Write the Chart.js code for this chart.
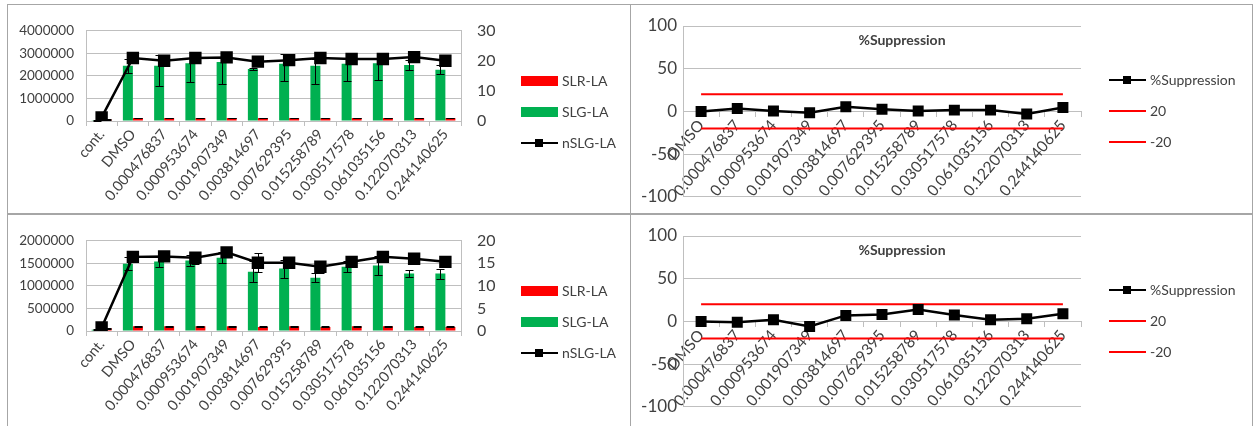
<!DOCTYPE html>
<html>
<head>
<meta charset="utf-8">
<title>SLR / SLG luciferase assay and %Suppression</title>
<script src="https://cdn.jsdelivr.net/npm/chart.js@4.4.1/dist/chart.umd.min.js"></script>
<style>
  html, body { margin: 0; padding: 0; background: #fff; }
  #page { position: relative; width: 1253px; height: 426px; overflow: hidden;
          font-family: Lato, "Open Sans", sans-serif; color: #404040; }
  canvas { position: absolute; }
  .rule { position: absolute; background: #a6a6a6; }
  .leg { position: absolute; height: 20px; line-height: 20px; font-size: 14px; white-space: nowrap; }
  .leg .sw { position: absolute; left: 0; }
  .leg .tx { position: absolute; top: 0; }
</style>
</head>
<body>
<div id="page">
  <!-- panel frame -->
  <div class="rule" style="left:7px;top:4px;width:1246px;height:1px"></div>
  <div class="rule" style="left:7px;top:213px;width:1246px;height:2px"></div>
  <div class="rule" style="left:7px;top:4px;width:1px;height:422px"></div>
  <div class="rule" style="left:630px;top:4px;width:1px;height:422px"></div>
  <div class="rule" style="left:1252px;top:4px;width:1px;height:422px"></div>

  <canvas id="lumTop" width="620" height="208" style="left:8px;top:5px"></canvas>
  <canvas id="lumBottom" width="620" height="208" style="left:8px;top:215px"></canvas>
  <canvas id="suppTop" width="620" height="208" style="left:631px;top:5px"></canvas>
  <canvas id="suppBottom" width="620" height="208" style="left:631px;top:215px"></canvas>
</div>

<script>
// ---- categories / tick labels ----
const categories = ['cont.', 'DMSO', '0.000476837', '0.000953674', '0.001907349', '0.003814697',
  '0.007629395', '0.015258789', '0.030517578', '0.061035156', '0.122070313', '0.244140625'];
const suppressionCategories = ['DMSO', '0.000476837', '0.000953674', '0.001907349', '0.003814697',
  '0.007629395', '0.015258789', '0.030517578', '0.061035156', '0.122070313', '0.244140625'];

// ---- upper assay: luminescence (left axis) and normalised SLG (right axis) ----
const slrTop      = [70000, 130000, 130000, 130000, 130000, 130000, 130000, 130000, 130000, 130000, 130000, 130000];
const slrTopErr   = [8000, 10000, 10000, 10000, 10000, 10000, 10000, 10000, 10000, 10000, 10000, 10000];
const slgTop      = [30000, 2440000, 2440000, 2550000, 2610000, 2300000, 2530000, 2440000, 2530000, 2550000, 2480000, 2270000];
const slgTopLow   = [20000, 2140000, 1560000, 1720000, 1650000, 2250000, 1750000, 1650000, 1780000, 1820000, 2270000, 2100000];
const slgTopHigh  = [40000, 2750000, 2900000, 2800000, 2850000, 2350000, 2970000, 2750000, 2800000, 2750000, 2690000, 2480000];
const nslgTop     = [1.2, 20.9, 20.0, 20.9, 21.1, 19.7, 20.2, 20.9, 20.6, 20.6, 21.2, 20.0];
const nslgTopErr  = [0.3, 0.4, 0.6, 0.5, 0.5, 0.4, 0.6, 0.5, 0.5, 0.5, 0.5, 0.6];

// ---- lower assay ----
const slrBottom     = [60000, 105000, 105000, 105000, 105000, 90000, 105000, 90000, 105000, 105000, 90000, 90000];
const slrBottomErr  = [8000, 10000, 10000, 10000, 10000, 10000, 10000, 10000, 10000, 10000, 10000, 10000];
const slgBottom     = [30000, 1490000, 1540000, 1560000, 1620000, 1310000, 1380000, 1180000, 1420000, 1450000, 1270000, 1270000];
const slgBottomErr  = [10000, 150000, 130000, 130000, 120000, 230000, 200000, 100000, 120000, 200000, 80000, 110000];
const nslgBottom    = [0.8, 16.4, 16.5, 16.2, 17.4, 15.1, 15.1, 14.2, 15.3, 16.4, 16.0, 15.3];
const nslgBottomErr = [0.3, 0.5, 0.3, 1.3, 0.5, 2.1, 1.0, 1.3, 1.0, 0.8, 0.5, 1.2];

// ---- %Suppression relative to DMSO ----
const suppressionTop    = [0, 3.5, 0.5, -1.5, 5.5, 2.5, 0.5, 1.5, 1.5, -3, 4.5];
const suppressionBottom = [0, -1, 2, -6, 7, 8, 14, 7.5, 2, 3, 9];
const limitUpper = [20, 20, 20, 20, 20, 20, 20, 20, 20, 20, 20];
const limitLower = [-20, -20, -20, -20, -20, -20, -20, -20, -20, -20, -20];

// ---- shared styling ----
const RED = '#ff0000', GREEN = '#00b050', BLACK = '#000000', GRID = '#bfbfbf', TEXT = '#404040';
Chart.defaults.font.family = 'Lato, "Open Sans", sans-serif';
Chart.defaults.color = TEXT;

// Error bars: drawn right after their own dataset, using the dataset's y scale.
const errorBars = {
  id: 'errorBars',
  afterDatasetDraw(chart, args) {
    const ds = chart.data.datasets[args.index];
    const e = ds.errors;
    if (!e) return;
    const scale = chart.scales[args.meta.yAxisID];
    const ctx = chart.ctx;
    ctx.save();
    ctx.strokeStyle = '#000';
    ctx.lineWidth = 1;
    args.meta.data.forEach((el, i) => {
      const v = ds.data[i];
      const lo = e.low ? e.low[i] : v - e.err[i];
      const hi = e.high ? e.high[i] : v + e.err[i];
      const x = Math.round(el.x) + 0.5;
      const y1 = Math.round(scale.getPixelForValue(lo)) + 0.5;
      const y2 = Math.round(scale.getPixelForValue(hi)) + 0.5;
      const c = 4;
      ctx.beginPath();
      ctx.moveTo(x, y1); ctx.lineTo(x, y2);
      ctx.moveTo(x - c, y1); ctx.lineTo(x + c, y1);
      ctx.moveTo(x - c, y2); ctx.lineTo(x + c, y2);
      ctx.stroke();
    });
    ctx.restore();
  }
};

// Title text placed inside the plot area.
const plotTitle = {
  id: 'plotTitle',
  afterDraw(chart, args, opts) {
    if (!opts.text) return;
    const { ctx, chartArea: a } = chart;
    ctx.save();
    ctx.font = 'bold 14px Lato, "Open Sans", sans-serif';
    ctx.fillStyle = TEXT;
    ctx.textAlign = 'center';
    ctx.textBaseline = 'middle';
    ctx.fillText(opts.text, (a.left + a.right) / 2 + opts.dx, a.top + opts.dy);
    ctx.restore();
  }
};

const plainNumber = { useGrouping: false };

function luminescenceChart(id, slr, slrErr, slg, slgErrors, nslg, nslgErr, leftMax, leftStep, rightMax, rightStep) {
  return new Chart(document.getElementById(id), {
    type: 'bar',
    data: {
      labels: categories,
      datasets: [
        { type: 'line', label: 'nSLG-LA', data: nslg, yAxisID: 'y1', order: 0,
          borderColor: BLACK, borderWidth: 2.5, pointStyle: 'rect', pointRadius: 7,
          pointBackgroundColor: BLACK, pointBorderColor: BLACK, errors: { err: nslgErr } },
        { label: 'SLR-LA', data: slr, yAxisID: 'y', order: 2, backgroundColor: RED,
          categoryPercentage: 0.64, barPercentage: 1.0, errors: { err: slrErr } },
        { label: 'SLG-LA', data: slg, yAxisID: 'y', order: 1, backgroundColor: GREEN,
          categoryPercentage: 0.64, barPercentage: 1.0, errors: slgErrors }
      ]
    },
    options: {
      responsive: false, animation: false,
      layout: { padding: { top: 20, right: 117, bottom: 0, left: 0 } },
      plugins: { legend: { display: false }, tooltip: { enabled: false } },
      scales: {
        x: {
          offset: true,
          grid: { offset: true, drawOnChartArea: false, drawTicks: true, tickLength: 5, color: GRID },
          border: { color: GRID },
          ticks: { autoSkip: false, minRotation: 50, maxRotation: 50, padding: 0, font: { size: 14.5 } },
          afterFit(s) { s.height = 92; }
        },
        y: {
          position: 'left', min: 0, max: leftMax,
          ticks: { stepSize: leftStep, padding: 12, font: { size: 13.5 }, format: plainNumber },
          grid: { color: GRID, drawTicks: false },
          border: { color: GRID },
          afterFit(s) { s.width = 78; }
        },
        y1: {
          position: 'right', min: 0, max: rightMax,
          ticks: { stepSize: rightStep, padding: 16, font: { size: 16 }, format: plainNumber },
          grid: { drawOnChartArea: false, drawTicks: false },
          border: { color: GRID },
          afterFit(s) { s.width = 50; }
        }
      }
    },
    plugins: [errorBars]
  });
}

function suppressionChart(id, values) {
  return new Chart(document.getElementById(id), {
    type: 'line',
    data: {
      labels: suppressionCategories,
      datasets: [
        { label: '%Suppression', data: values, borderColor: BLACK, borderWidth: 2.5,
          pointStyle: 'rect', pointRadius: 6, pointBackgroundColor: BLACK, pointBorderColor: BLACK },
        { label: '20', data: limitUpper, borderColor: RED, borderWidth: 2, pointRadius: 0 },
        { label: '-20', data: limitLower, borderColor: RED, borderWidth: 2, pointRadius: 0 }
      ]
    },
    options: {
      responsive: false, animation: false,
      layout: { padding: { top: 21, right: 170, bottom: 15, left: 0 } },
      plugins: {
        legend: { display: false }, tooltip: { enabled: false },
        plotTitle: { text: '%Suppression', dx: 20, dy: 14 }
      },
      scales: {
        x: {
          position: { y: 0 }, offset: true,
          grid: { offset: true, drawOnChartArea: false, drawTicks: true, tickLength: 5, color: GRID },
          border: { color: GRID },
          ticks: { autoSkip: false, minRotation: 50, maxRotation: 50, padding: 0, font: { size: 15.5 } }
        },
        y: {
          min: -100, max: 100,
          ticks: { stepSize: 50, padding: 6, font: { size: 17 } },
          grid: { color: GRID, drawTicks: false },
          border: { color: GRID },
          afterFit(s) { s.width = 52; }
        }
      }
    },
    plugins: [plotTitle]
  });
}

const charts = [
  luminescenceChart('lumTop', slrTop, slrTopErr, slgTop, { low: slgTopLow, high: slgTopHigh },
    nslgTop, nslgTopErr, 4000000, 1000000, 30, 10),
  luminescenceChart('lumBottom', slrBottom, slrBottomErr, slgBottom, { err: slgBottomErr },
    nslgBottom, nslgBottomErr, 2000000, 500000, 20, 5),
  suppressionChart('suppTop', suppressionTop),
  suppressionChart('suppBottom', suppressionBottom)
];

// Side legends built from each chart's datasets.
function addLegend(chart, left, top, order) {
  const page = document.getElementById('page');
  order.forEach((label, k) => {
    const ds = chart.data.datasets.find(d => d.label === label);
    const row = document.createElement('div');
    row.className = 'leg';
    row.style.left = left + 'px';
    row.style.top = (top + k * 31 - 10) + 'px';
    const isBar = chart.config.type === 'bar' && ds.type !== 'line';
    if (isBar) {
      const sw = document.createElement('div');
      sw.className = 'sw';
      sw.style.cssText += `top:5px;width:37px;height:10px;background:${ds.backgroundColor};`;
      row.appendChild(sw);
    } else {
      const ln = document.createElement('div');
      ln.className = 'sw';
      ln.style.cssText += `top:9px;width:37px;height:2px;background:${ds.borderColor};`;
      row.appendChild(ln);
      if (ds.pointRadius > 0) {
        const mk = document.createElement('div');
        mk.className = 'sw';
        mk.style.cssText += `left:14px;top:6px;width:8px;height:8px;background:${ds.pointBackgroundColor};`;
        row.appendChild(mk);
      }
    }
    const tx = document.createElement('span');
    tx.className = 'tx';
    tx.style.left = '41px';
    tx.textContent = ds.label;
    row.appendChild(tx);
    page.appendChild(row);
  });
}

addLegend(charts[0], 521, 81, ['SLR-LA', 'SLG-LA', 'nSLG-LA']);
addLegend(charts[1], 521, 291, ['SLR-LA', 'SLG-LA', 'nSLG-LA']);
addLegend(charts[2], 1109, 80, ['%Suppression', '20', '-20']);
addLegend(charts[3], 1109, 290, ['%Suppression', '20', '-20']);
</script>
</body>
</html>
